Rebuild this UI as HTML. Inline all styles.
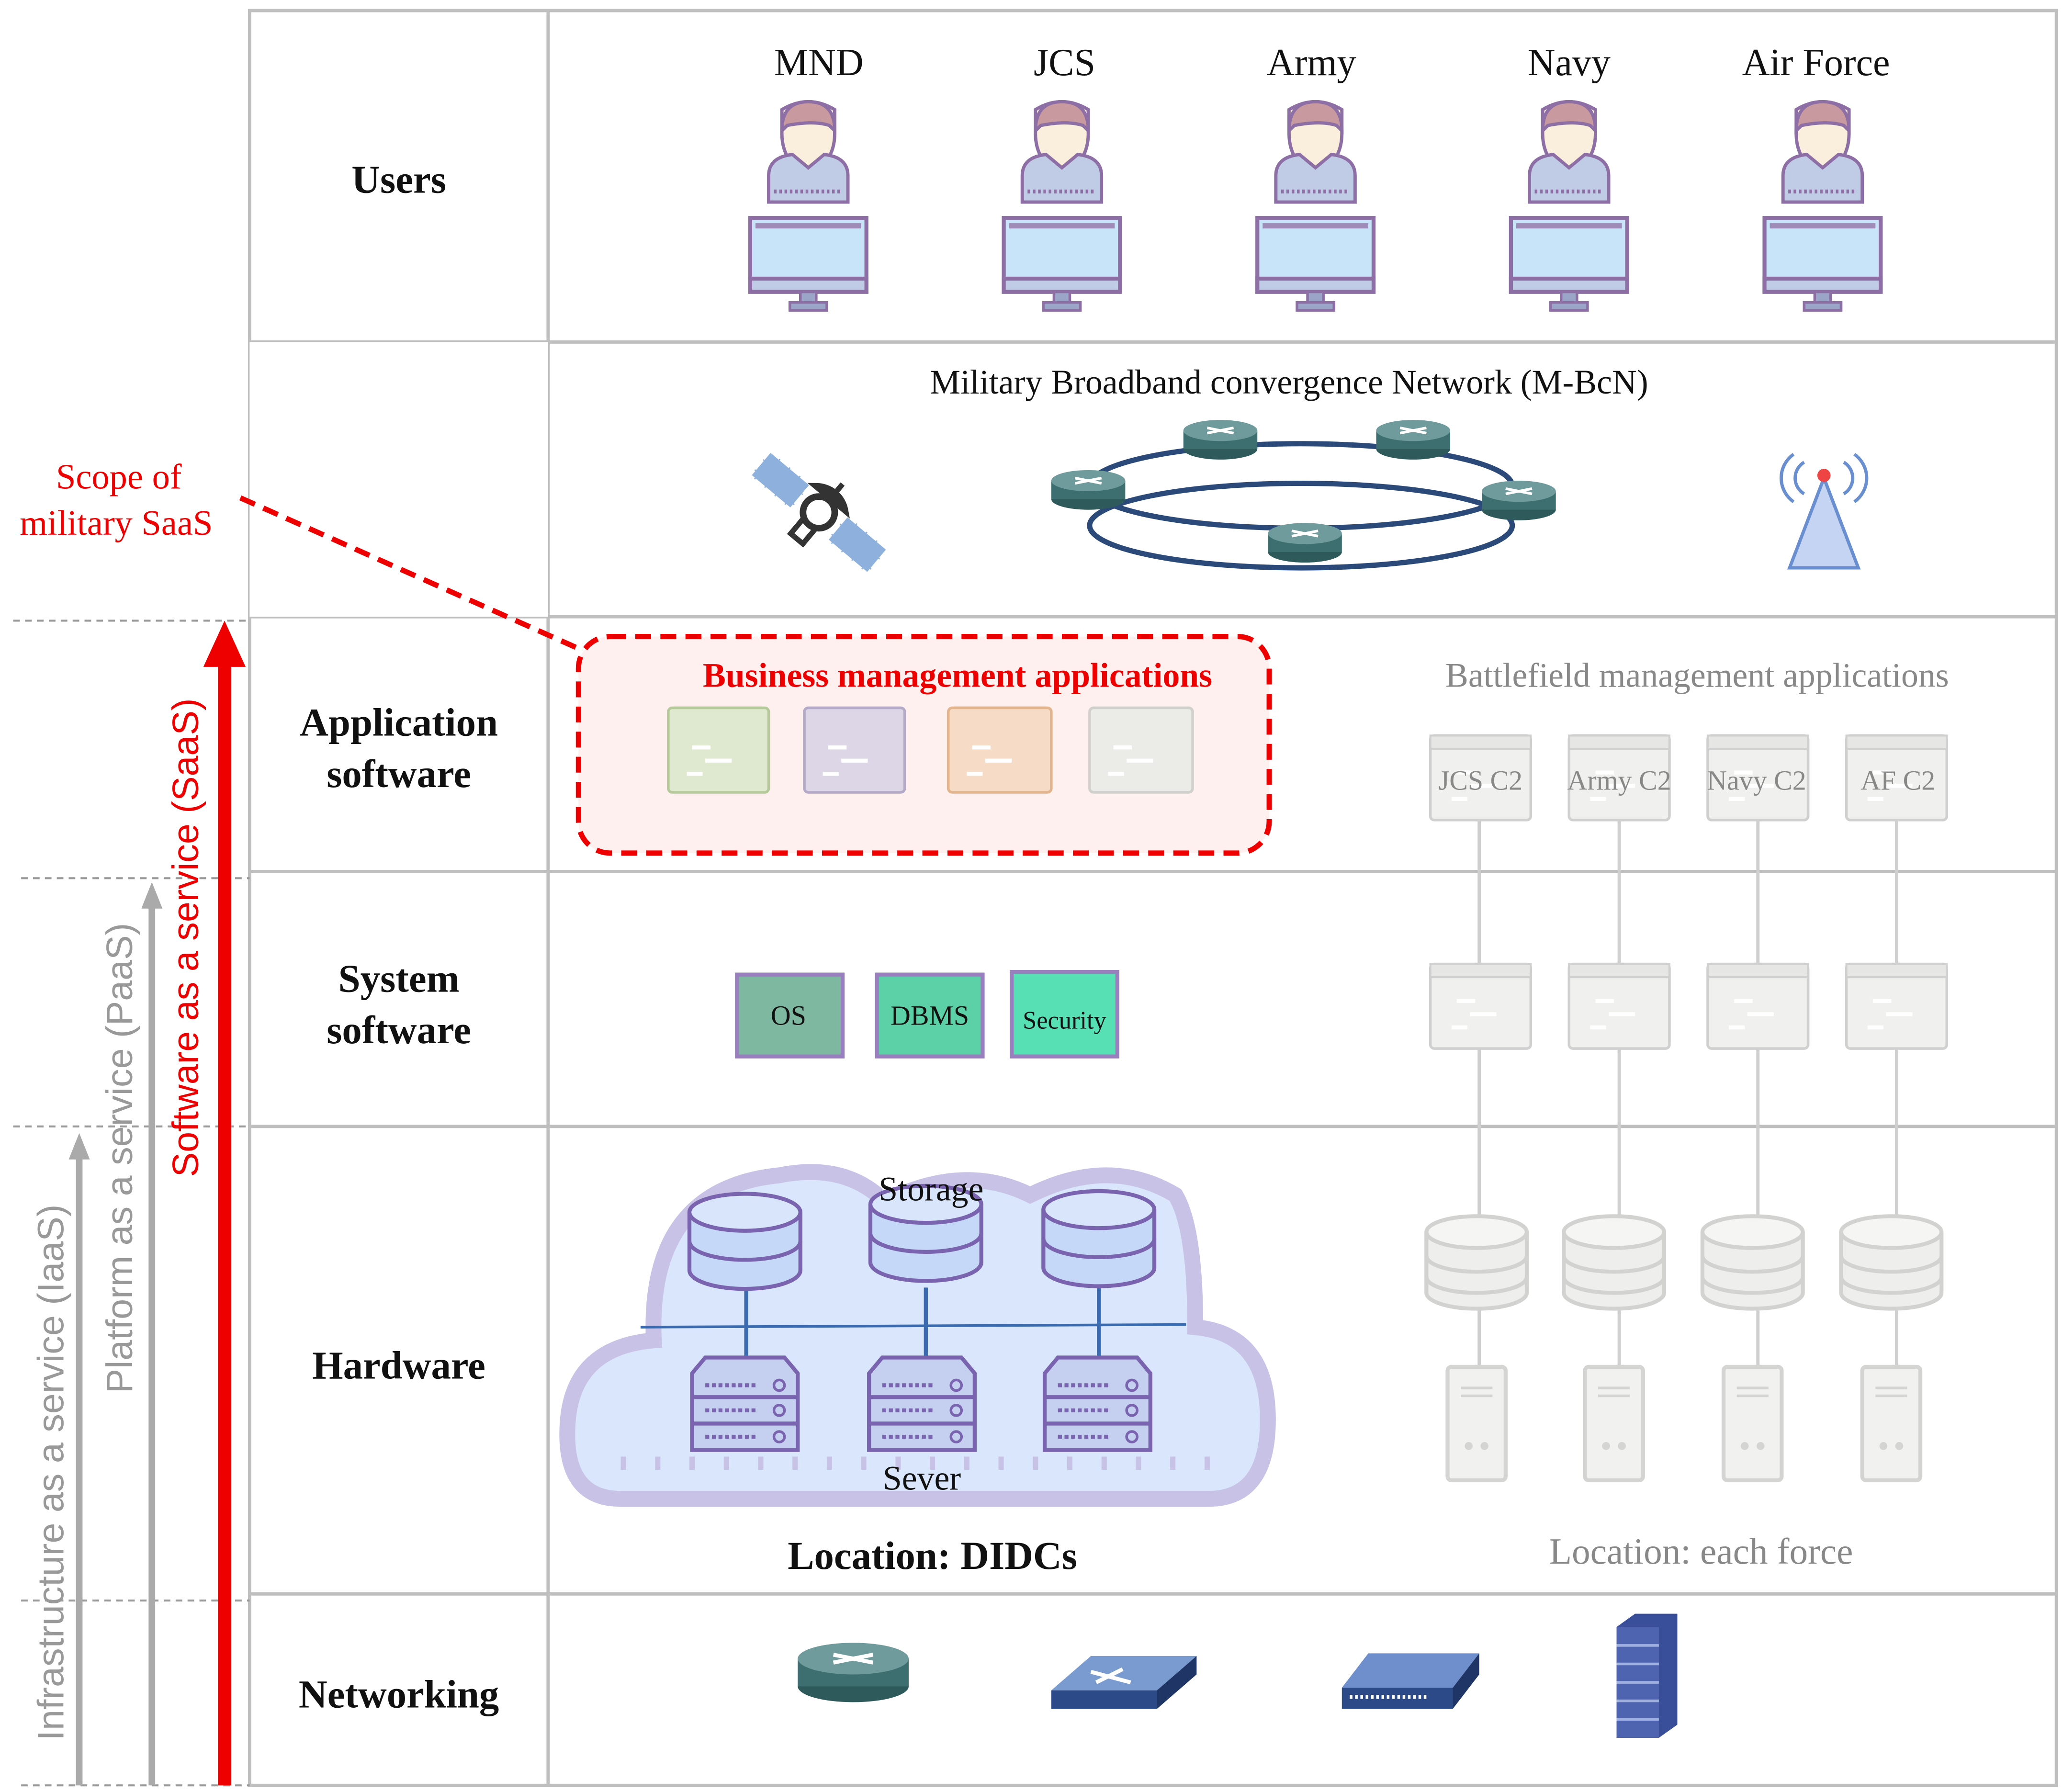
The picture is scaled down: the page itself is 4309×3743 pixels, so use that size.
<!DOCTYPE html>
<html><head><meta charset="utf-8"><style>
html,body{margin:0;padding:0;background:#fff}
svg{display:block}
text{font-family:"Liberation Serif",serif}
</style></head><body>
<svg width="4309" height="3743" viewBox="0 0 1562 1357" preserveAspectRatio="none" xmlns="http://www.w3.org/2000/svg">
<defs>
<g id="user">
  <path d="M-20,-40 q20,-12 40,0 v18 q0,22 -20,32 q-20,-10 -20,-32z" fill="#faefdc" stroke="#8e6fa5" stroke-width="2.5"/>
  <path d="M-20,-24 q0,-22 20,-22 q20,0 20,22 l-4,-4 q-12,-4 -32,0z" fill="#c89aa0" stroke="#8e6fa5" stroke-width="2.5"/>
  <path d="M-30,30 v-20 q0,-14 18,-16 l12,10 l12,-10 q18,2 18,16 v20z" fill="#c0cbe6" stroke="#8e6fa5" stroke-width="2.5"/>
  <line x1="-26" y1="22" x2="26" y2="22" stroke="#8e6fa5" stroke-width="3" stroke-dasharray="2,2"/>
  <rect x="-44" y="42" width="88" height="56" fill="#c8e4f8" stroke="#8e6fa5" stroke-width="3"/>
  <rect x="-40" y="46" width="80" height="4" fill="#9e8bb8"/>
  <rect x="-44" y="88" width="88" height="10" fill="#c0cbe6" stroke="#8e6fa5" stroke-width="3"/>
  <rect x="-6" y="98" width="12" height="8" fill="#9aa5c8" stroke="#8e6fa5" stroke-width="2"/>
  <rect x="-14" y="106" width="28" height="6" fill="#9aa5c8" stroke="#8e6fa5" stroke-width="2"/>
</g>
<g id="router">
  <ellipse cx="0" cy="8" rx="28" ry="8" fill="#2f5a5c"/>
  <rect x="-28" y="-6" width="56" height="14" fill="#3d6f70"/>
  <ellipse cx="0" cy="-6" rx="28" ry="8" fill="#6f9b9c"/>
  <path d="M-10,-8 l20,4 M-10,-4 l20,-4" stroke="#fff" stroke-width="2"/>
</g>
<g id="win">
  <rect x="0" y="0" width="76" height="64" rx="3" fill="#f0f0ee" stroke="#cfd0cf" stroke-width="2"/>
  <rect x="0" y="0" width="76" height="10" fill="#e6e6e4" stroke="#cfd0cf" stroke-width="1.5"/>
  <path d="M20,28 h14 M30,38 h20 M16,48 h12" stroke="#fff" stroke-width="3"/>
</g>
<g id="db">
  <path d="M-38,-22 v46 a38,12 0 0 0 76,0 v-46" fill="#eeeeec" stroke="#d2d2d0" stroke-width="3"/>
  <ellipse cx="0" cy="-22" rx="38" ry="12" fill="#f5f5f3" stroke="#d2d2d0" stroke-width="3"/>
  <path d="M-38,-4 a38,12 0 0 0 76,0 M-38,12 a38,12 0 0 0 76,0" fill="none" stroke="#d2d2d0" stroke-width="3"/>
</g>
<g id="tower">
  <rect x="-22" y="0" width="44" height="86" rx="3" fill="#f1f1ef" stroke="#d4d4d2" stroke-width="3"/>
  <path d="M-12,16 h24 M-12,22 h24" stroke="#d4d4d2" stroke-width="2"/>
  <circle cx="-6" cy="60" r="3" fill="#d4d4d2"/><circle cx="6" cy="60" r="3" fill="#d4d4d2"/>
</g>
<g id="bdb">
  <path d="M-42,-22 v44 a42,14 0 0 0 84,0 v-44" fill="#c5d8f8" stroke="#7a64b0" stroke-width="3"/>
  <ellipse cx="0" cy="-22" rx="42" ry="14" fill="#d8e5fb" stroke="#7a64b0" stroke-width="3"/>
  <path d="M-42,0 a42,14 0 0 0 84,0" fill="none" stroke="#7a64b0" stroke-width="3"/>
</g>
<g id="srv">
  <path d="M-30,-40 h60 l10,12 v58 h-80 v-58z" fill="#c5d0f0" stroke="#7a64b0" stroke-width="3"/>
  <path d="M-40,-10 h80 M-40,10 h80" stroke="#7a64b0" stroke-width="3"/>
  <path d="M-30,-19 h40 M-30,0 h40 M-30,20 h40" stroke="#7a64b0" stroke-width="3" stroke-dasharray="3,2"/>
  <circle cx="26" cy="-19" r="4" fill="none" stroke="#7a64b0" stroke-width="2"/>
  <circle cx="26" cy="0" r="4" fill="none" stroke="#7a64b0" stroke-width="2"/>
  <circle cx="26" cy="20" r="4" fill="none" stroke="#7a64b0" stroke-width="2"/>
</g>
</defs>

<g stroke="#bfbfbf" stroke-width="2.5" fill="none">
<rect x="189" y="8" width="1368" height="1344"/>
<line x1="415" y1="8" x2="415" y2="1352"/>
<line x1="189" y1="259" x2="1557" y2="259"/>
<line x1="189" y1="467" x2="1557" y2="467"/>
<line x1="189" y1="660" x2="1557" y2="660"/>
<line x1="189" y1="853" x2="1557" y2="853"/>
<line x1="189" y1="1207" x2="1557" y2="1207"/>
</g>
<rect x="189" y="259" width="226" height="208" fill="#fff"/>

<g font-weight="bold" font-size="30" text-anchor="middle" fill="#111">
<text x="302" y="146">Users</text>
<text x="302" y="557">Application</text><text x="302" y="596">software</text>
<text x="302" y="751">System</text><text x="302" y="790">software</text>
<text x="302" y="1044">Hardware</text>
<text x="302" y="1293">Networking</text>
</g>

<g stroke="#999" stroke-width="1.5" stroke-dasharray="5,4">
<line x1="10" y1="470" x2="189" y2="470"/>
<line x1="16" y1="665" x2="189" y2="665"/>
<line x1="10" y1="853" x2="189" y2="853"/>
<line x1="16" y1="1212" x2="189" y2="1212"/>
<line x1="16" y1="1352" x2="189" y2="1352"/>
</g>
<line x1="60" y1="1352" x2="60" y2="875" stroke="#aaa" stroke-width="5"/>
<path d="M52,878 L60,858 L68,878z" fill="#aaa"/>
<line x1="115" y1="1352" x2="115" y2="685" stroke="#aaa" stroke-width="5"/>
<path d="M107,688 L115,668 L123,688z" fill="#aaa"/>
<line x1="170" y1="1352" x2="170" y2="500" stroke="#e00" stroke-width="10"/>
<path d="M154,505 L170,470 L186,505z" fill="#e00"/>
<text transform="translate(48,1115) rotate(-90)" text-anchor="middle" font-size="28" fill="#999" style="font-family:'Liberation Sans',sans-serif">Infrastructure as a service (IaaS)</text>
<text transform="translate(100,877) rotate(-90)" text-anchor="middle" font-size="28" fill="#999" style="font-family:'Liberation Sans',sans-serif">Platform as a service (PaaS)</text>
<text transform="translate(150,710) rotate(-90)" text-anchor="middle" font-size="28" fill="#e00" style="font-family:'Liberation Sans',sans-serif">Software as a service (SaaS)</text>

<text x="90" y="370" text-anchor="middle" font-size="27" fill="#e00">Scope of</text>
<text x="88" y="405" text-anchor="middle" font-size="27" fill="#e00">military SaaS</text>
<line x1="182" y1="377" x2="440" y2="492" stroke="#e00" stroke-width="4" stroke-dasharray="12,7"/>

<g font-size="29" text-anchor="middle" fill="#111">
<text x="620" y="57">MND</text><text x="806" y="57">JCS</text><text x="993" y="57">Army</text><text x="1188" y="57">Navy</text><text x="1375" y="57">Air Force</text>
</g>
<use href="#user" x="612" y="123"/><use href="#user" x="804" y="123"/><use href="#user" x="996" y="123"/><use href="#user" x="1188" y="123"/><use href="#user" x="1380" y="123"/>

<text x="976" y="298" text-anchor="middle" font-size="26" fill="#111">Military Broadband convergence Network (M-BcN)</text>
<ellipse cx="985" cy="368" rx="160" ry="32" fill="none" stroke="#2b4a7a" stroke-width="4"/>
<ellipse cx="985" cy="398" rx="160" ry="32" fill="none" stroke="#2b4a7a" stroke-width="4"/>
<use href="#router" x="924" y="332"/><use href="#router" x="1070" y="332"/><use href="#router" x="824" y="370"/><use href="#router" x="1150" y="378"/><use href="#router" x="988" y="410"/>
<g transform="translate(620,388) rotate(40)">
<rect x="-58" y="-12" width="40" height="24" fill="#8db0dc" stroke="#fff" stroke-width="2" stroke-dasharray="9,1"/>
<rect x="18" y="-12" width="40" height="24" fill="#8db0dc" stroke="#fff" stroke-width="2" stroke-dasharray="9,1"/>
<circle r="12" fill="#fff" stroke="#333" stroke-width="5"/>
<rect x="-6" y="12" width="12" height="14" fill="none" stroke="#333" stroke-width="4"/>
<path d="M-14,-14 a22,22 0 0 1 28,0 z" fill="#fff" stroke="#333" stroke-width="5"/>
<line x1="0" y1="-14" x2="0" y2="-28" stroke="#333" stroke-width="4"/>
</g>
<g stroke="#6a8fd0" stroke-width="2.5" fill="none">
<path d="M1366,350 a14,14 0 0 0 0,24 M1358,344 a22,22 0 0 0 0,36 M1396,350 a14,14 0 0 1 0,24 M1404,344 a22,22 0 0 1 0,36"/>
<path d="M1381,362 L1355,430 H1407z" fill="#c5d4f2"/>
</g>
<circle cx="1381" cy="360" r="5" fill="#e44"/>

<rect x="438" y="482" width="523" height="164" rx="24" fill="#fff0f0" stroke="#e00" stroke-width="4" stroke-dasharray="12,7"/>
<text x="725" y="520" text-anchor="middle" font-size="26" font-weight="bold" fill="#e00">Business management applications</text>
<rect x="506" y="536" width="76" height="64" rx="3" fill="#dfe9cf" stroke="#b6c99b" stroke-width="2"/>
<rect x="609" y="536" width="76" height="64" rx="3" fill="#ddd6e6" stroke="#b4a9c6" stroke-width="2"/>
<rect x="718" y="536" width="78" height="64" rx="3" fill="#f6dcc6" stroke="#e3b58f" stroke-width="2"/>
<rect x="825" y="536" width="78" height="64" rx="3" fill="#ebebe8" stroke="#d0d0cd" stroke-width="2"/>
<g stroke="#fff" stroke-width="3">
<path d="M524,566 h14 M534,576 h20 M520,586 h12"/><path d="M627,566 h14 M637,576 h20 M623,586 h12"/>
<path d="M736,566 h14 M746,576 h20 M732,586 h12"/><path d="M843,566 h14 M853,576 h20 M839,586 h12"/>
</g>
<text x="1285" y="520" text-anchor="middle" font-size="26" fill="#888">Battlefield management applications</text>
<g stroke="#cfcfcf" stroke-width="2.5">
<line x1="1120" y1="620" x2="1120" y2="1040"/><line x1="1226" y1="620" x2="1226" y2="1040"/><line x1="1331" y1="620" x2="1331" y2="1040"/><line x1="1436" y1="620" x2="1436" y2="1040"/>
</g>
<use href="#win" x="1083" y="557"/><use href="#win" x="1188" y="557"/><use href="#win" x="1293" y="557"/><use href="#win" x="1398" y="557"/>
<g font-size="21" text-anchor="middle" fill="#888">
<text x="1121" y="598">JCS C2</text><text x="1226" y="598">Army C2</text><text x="1330" y="598">Navy C2</text><text x="1437" y="598">AF C2</text>
</g>

<rect x="558" y="738" width="80" height="62" fill="#7fb8a0" stroke="#9a7fbf" stroke-width="3"/>
<rect x="664" y="738" width="80" height="62" fill="#5cd1a8" stroke="#9a7fbf" stroke-width="3"/>
<rect x="766" y="736" width="80" height="64" fill="#56e0b4" stroke="#9a7fbf" stroke-width="3"/>
<g font-size="21" text-anchor="middle" fill="#111">
<text x="597" y="776">OS</text><text x="704" y="776">DBMS</text><text x="806" y="779" font-size="19">Security</text>
</g>
<use href="#win" x="1083" y="730"/><use href="#win" x="1188" y="730"/><use href="#win" x="1293" y="730"/><use href="#win" x="1398" y="730"/>

<path d="M470,1135 Q425,1135 430,1075 Q435,1020 495,1015 Q490,900 590,890 Q640,880 670,910 Q730,880 780,905 Q840,875 890,905 Q905,930 905,1005 Q960,1010 960,1075 Q960,1135 915,1135 Z" fill="#d9e6fb" stroke="#c8c2e6" stroke-width="12"/>
<line x1="470" y1="1108" x2="935" y2="1108" stroke="#c8c2e6" stroke-width="10" stroke-dasharray="4,22"/>
<line x1="485" y1="1005" x2="898" y2="1003" stroke="#3a6ab0" stroke-width="2"/>
<line x1="565" y1="975" x2="565" y2="1030" stroke="#3a6ab0" stroke-width="3"/>
<line x1="701" y1="975" x2="701" y2="1030" stroke="#3a6ab0" stroke-width="3"/>
<line x1="832" y1="975" x2="832" y2="1030" stroke="#3a6ab0" stroke-width="3"/>
<use href="#bdb" x="564" y="940"/><use href="#bdb" x="701" y="934"/><use href="#bdb" x="832" y="938"/>
<use href="#srv" x="564" y="1068"/><use href="#srv" x="698" y="1068"/><use href="#srv" x="831" y="1068"/>
<text x="705" y="909" text-anchor="middle" font-size="26" fill="#111">Storage</text>
<text x="698" y="1128" text-anchor="middle" font-size="26" fill="#111">Sever</text>
<text x="706" y="1188" text-anchor="middle" font-size="30" font-weight="bold" fill="#111">Location: DIDCs</text>
<use href="#db" x="1118" y="955"/><use href="#db" x="1222" y="955"/><use href="#db" x="1327" y="955"/><use href="#db" x="1432" y="955"/>
<use href="#tower" x="1118" y="1035"/><use href="#tower" x="1222" y="1035"/><use href="#tower" x="1327" y="1035"/><use href="#tower" x="1432" y="1035"/>
<text x="1288" y="1184" text-anchor="middle" font-size="28" fill="#888">Location: each force</text>

<g transform="translate(646,1265) scale(1.5)"><use href="#router"/></g>
<path d="M796,1280 l30,-26 h80 l-30,26z" fill="#7a9bd0"/><path d="M796,1280 h80 v14 h-80z" fill="#2c4a88"/><path d="M876,1280 l30,-26 v14 l-30,26z" fill="#1e3566"/>
<path d="M826,1266 l30,8 M850,1264 l-20,10" stroke="#fff" stroke-width="3"/>
<path d="M1016,1278 l20,-26 h84 l-20,26z" fill="#6f8fcc"/><path d="M1016,1278 h84 v16 h-84z" fill="#2c4a88"/><path d="M1100,1278 l20,-26 v16 l-20,26z" fill="#1e3566"/>
<line x1="1022" y1="1285" x2="1082" y2="1285" stroke="#fff" stroke-width="3" stroke-dasharray="2,2"/>
<path d="M1224,1232 l14,-10 h32 v84 l-14,10 h-32z" fill="#3a4f9a"/>
<path d="M1224,1232 h32 v84 h-32z" fill="#4f64b0"/>
<path d="M1224,1246 h32 M1224,1260 h32 M1224,1274 h32 M1224,1288 h32 M1224,1302 h32" stroke="#9fb0e0" stroke-width="2"/>
</svg>
</body></html>
